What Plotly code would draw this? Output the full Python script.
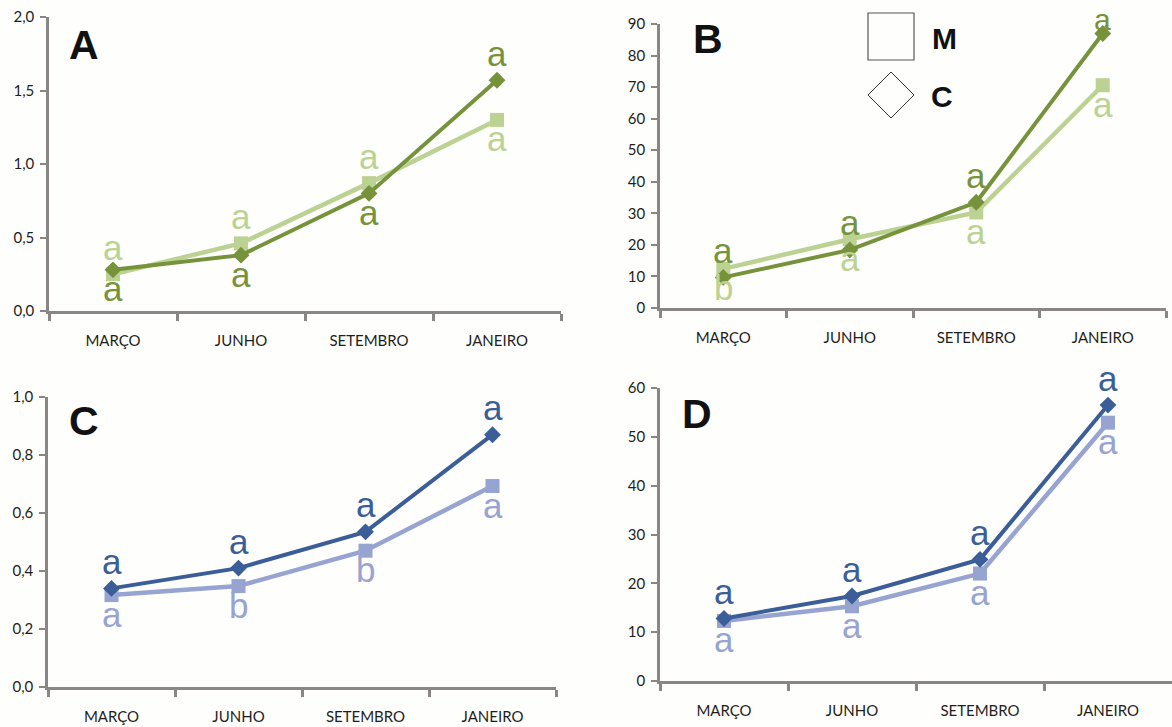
import plotly.graph_objects as go

# Sampling months (categories on every x axis)
months = ["MARÇO", "JUNHO", "SETEMBRO", "JANEIRO"]

# Panel A (green, 0–2 scale)
a_c = [0.28, 0.38, 0.80, 1.57]
a_m = [0.25, 0.46, 0.87, 1.30]
a_c_letters = ["a", "a", "a", "a"]
a_m_letters = ["a", "a", "a", "a"]

# Panel B (green, 0–90 scale)
b_c = [9.7, 18.4, 33.5, 87.0]
b_m = [12.4, 21.8, 30.3, 70.6]
b_c_letters = ["a", "a", "a", "a"]
b_m_letters = ["b", "a", "a", "a"]

# Panel C (blue, 0–1 scale)
c_c = [0.34, 0.41, 0.535, 0.87]
c_m = [0.317, 0.348, 0.47, 0.693]
c_c_letters = ["a", "a", "a", "a"]
c_m_letters = ["a", "b", "b", "a"]

# Panel D (blue, 0–60 scale)
d_c = [12.8, 17.4, 24.9, 56.5]
d_m = [12.3, 15.3, 22.0, 52.9]
d_c_letters = ["a", "a", "a", "a"]
d_m_letters = ["a", "a", "a", "a"]

W, H = 1172, 727
GREEN_DARK, GREEN_LIGHT = "#76933c", "#bcd293"
BLUE_DARK, BLUE_LIGHT = "#3b5e98", "#97a4d1"
AXIS = "#8a8683"
TICKFONT = dict(family="Lato", size=15, color="#1e1e1e")
LETTER_UP, LETTER_DOWN = 27, -19
LETTER_SIZE, LETTER_SIZE_TIGHT = 35, 30
TOP_CLEARANCE = 19  # keep letters clear of the page's top edge


def px_x(a, b):
    return [a / W, b / W]


def px_y(top, bottom):
    return [1 - bottom / H, 1 - top / H]


panels = [
    dict(key="", c=a_c, m=a_m, cl=a_c_letters, ml=a_m_letters,
         dark=GREEN_DARK, light=GREEN_LIGHT, yr=[0, 2], dt=0.5, fmt=".1f",
         xd=px_x(49, 561), yd=px_y(17, 311), tag="A", tag_xy=(84, 45),
         m_above=[True, True, True, False]),
    dict(key="2", c=b_c, m=b_m, cl=b_c_letters, ml=b_m_letters,
         dark=GREEN_DARK, light=GREEN_LIGHT, yr=[0, 90], dt=10, fmt="d",
         xd=px_x(660, 1166), yd=px_y(24, 308), tag="B", tag_xy=(708, 39),
         m_above=[False, False, False, False]),
    dict(key="3", c=c_c, m=c_m, cl=c_c_letters, ml=c_m_letters,
         dark=BLUE_DARK, light=BLUE_LIGHT, yr=[0, 1], dt=0.2, fmt=".1f",
         xd=px_x(48, 556), yd=px_y(397, 687), tag="C", tag_xy=(84, 421),
         m_above=[False, False, False, False]),
    dict(key="4", c=d_c, m=d_m, cl=d_c_letters, ml=d_m_letters,
         dark=BLUE_DARK, light=BLUE_LIGHT, yr=[0, 60], dt=10, fmt="d",
         xd=px_x(660, 1172), yd=px_y(388, 681), tag="D", tag_xy=(697, 414),
         m_above=[False, False, False, False]),
]

fig = go.Figure()
annotations = []
layout_axes = {}

for p in panels:
    k = p["key"]
    xa, ya = "x" + k, "y" + k
    y0p, y1p = p["yd"]
    lo, hi = p["yr"]

    def to_px(v):
        # pixel row (from the top) of a data value in this panel
        frac = y0p + (v - lo) / (hi - lo) * (y1p - y0p)
        return (1 - frac) * H

    # M series (squares, lighter tone) drawn first, C series (diamonds) on top
    fig.add_trace(go.Scatter(
        x=months, y=p["m"], xaxis=xa, yaxis=ya, mode="lines+markers",
        line=dict(color=p["light"], width=4.5),
        marker=dict(symbol="square", size=14, color=p["light"]),
        showlegend=False, hoverinfo="skip"))
    fig.add_trace(go.Scatter(
        x=months, y=p["c"], xaxis=xa, yaxis=ya, mode="lines+markers",
        line=dict(color=p["dark"], width=4),
        marker=dict(symbol="diamond", size=13, color=p["dark"]),
        showlegend=False, hoverinfo="skip"))

    # significance letters next to each point
    for i, mo in enumerate(months):
        above_m = p["m_above"][i]
        for val, let, col, up in ((p["m"][i], p["ml"][i], p["light"], above_m),
                                  (p["c"][i], p["cl"][i], p["dark"], not above_m)):
            shift, size = LETTER_DOWN, LETTER_SIZE
            if up:
                room = to_px(val) - TOP_CLEARANCE
                if room < LETTER_UP:
                    shift, size = room, LETTER_SIZE_TIGHT
                else:
                    shift = LETTER_UP
            annotations.append(dict(
                x=mo, y=val, xref=xa, yref=ya, text=let, showarrow=False,
                font=dict(family="Liberation Sans", size=size, color=col),
                xanchor="center", yanchor="middle", yshift=shift))

    # panel tag
    tx, ty = p["tag_xy"]
    annotations.append(dict(
        x=tx / W, y=1 - ty / H, xref="paper", yref="paper", text="<b>%s</b>" % p["tag"],
        showarrow=False, font=dict(family="Liberation Sans", size=41, color="#111111"),
        xanchor="center", yanchor="middle"))

    layout_axes["xaxis" + k] = dict(
        domain=p["xd"], anchor=ya, type="category", range=[-0.5, 3.5],
        showline=True, linecolor=AXIS, linewidth=2.5, ticks="outside",
        tickson="boundaries", ticklen=7, tickwidth=2.5, tickcolor=AXIS,
        showgrid=False, zeroline=False, tickfont=TICKFONT, ticklabelstandoff=14,
        automargin=False)
    layout_axes["yaxis" + k] = dict(
        domain=p["yd"], anchor=xa, range=p["yr"], dtick=p["dt"], tick0=0,
        tickformat=p["fmt"], showline=True, linecolor=AXIS, linewidth=2.5,
        ticks="outside", ticklen=6, tickwidth=2, tickcolor=AXIS,
        showgrid=False, zeroline=False, tickfont=TICKFONT, ticklabelstandoff=3,
        automargin=False)

# key: M = square, C = diamond
shapes = [
    dict(type="rect", xref="paper", yref="paper",
         x0=868 / W, x1=914 / W, y0=1 - 60 / H, y1=1 - 13 / H,
         line=dict(color="#555555", width=1.2), fillcolor="rgba(0,0,0,0)"),
    dict(type="path", xref="paper", yref="paper",
         path="M %f %f L %f %f L %f %f L %f %f Z" % (
             868 / W, 1 - 95 / H, 891 / W, 1 - 72 / H,
             914 / W, 1 - 95 / H, 891 / W, 1 - 118 / H),
         line=dict(color="#333333", width=1), fillcolor="rgba(0,0,0,0)"),
]
annotations.append(dict(x=945 / W, y=1 - 38 / H, xref="paper", yref="paper", text="<b>M</b>",
                        showarrow=False, font=dict(family="Liberation Sans", size=30, color="#111111"),
                        xanchor="center", yanchor="middle"))
annotations.append(dict(x=942 / W, y=1 - 97 / H, xref="paper", yref="paper", text="<b>C</b>",
                        showarrow=False, font=dict(family="Liberation Sans", size=30, color="#111111"),
                        xanchor="center", yanchor="middle"))

fig.update_layout(
    width=W, height=H, margin=dict(l=0, r=0, t=0, b=0, autoexpand=False),
    paper_bgcolor="#fefefc", plot_bgcolor="rgba(0,0,0,0)",
    separators=",.", annotations=annotations, shapes=shapes,
    **layout_axes)

fig.write_html("out.html")
